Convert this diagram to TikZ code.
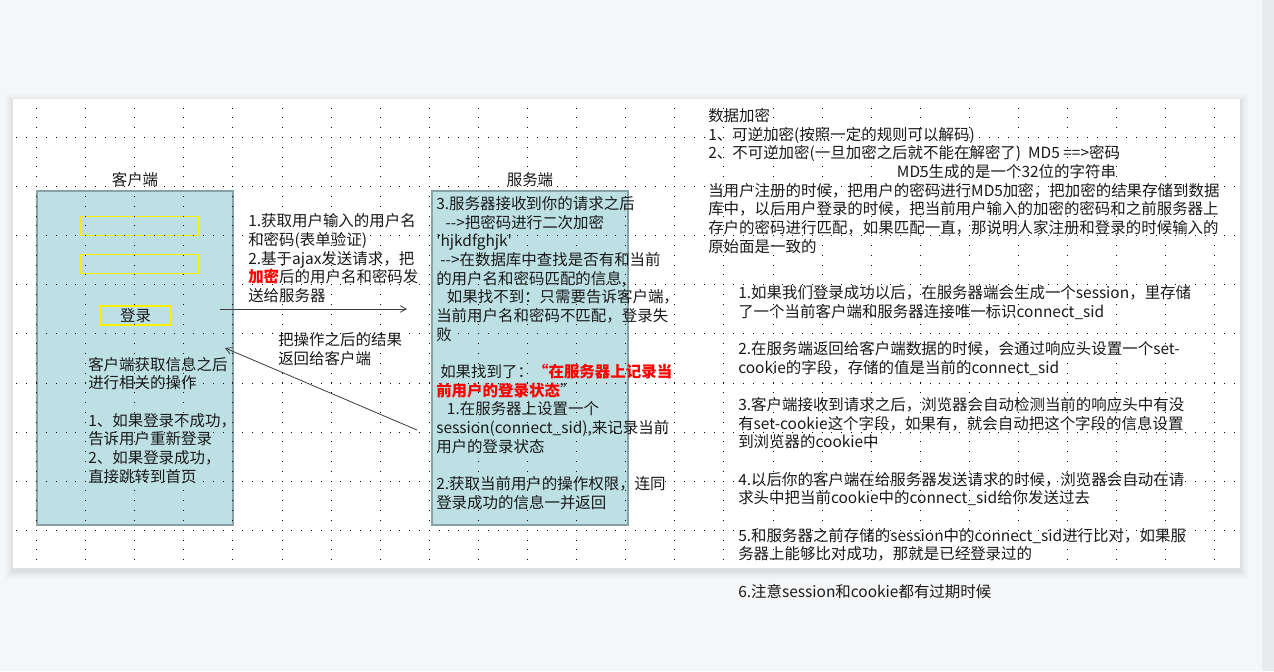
\documentclass[tikz,border=0pt]{standalone}
\usepackage{fontspec}
\setmainfont{Noto Sans CJK SC}[Ligatures=TeXOff]
\usetikzlibrary{arrows.meta,positioning}
\definecolor{pgPage}{HTML}{F5F6F8}
\definecolor{pgBar}{HTML}{E9EAEE}
\definecolor{pgBoxFill}{HTML}{BCE0E3}
\definecolor{pgBoxLine}{HTML}{86A3A6}
\definecolor{pgInput}{HTML}{FFF000}
\definecolor{pgRed}{HTML}{FF0000}
\definecolor{pgInk}{HTML}{1A1A1A}
\newcommand\hotred[1]{\textcolor{pgRed}{\bfseries #1}}
\tikzset{
  panel/.style  ={draw=pgBoxLine,fill=pgBoxFill,line width=0.9pt,
                  minimum width=147pt,minimum height=250.5pt},
  field/.style  ={draw=pgInput,line width=0.9pt,minimum height=14.25pt,inner sep=0pt},
  griddot/.style={fill=black},
  % multi-line texts hang from the baseline of their last line
  txt/.style    ={font=\fontsize{11.6}{14}\selectfont,text=pgInk,inner sep=0pt,
                  anchor=base west,align=left},
  title/.style  ={txt,anchor=base},
  flow/.style   ={-{Straight Barb[length=4.5pt,width=5pt]},pgInk!85,line width=0.6pt},
}

\begin{document}
\begin{tikzpicture}[x=0.75pt,y=-0.75pt]
\useasboundingbox[fill=pgPage] (0,0) rectangle (1274,671);
\fill[pgBar] (1262,0) rectangle (1274,671);
% canvas with a soft shadow
\foreach \s/\o in {8/0.012,6/0.018,4/0.025,2/0.03}
  \fill[black,opacity=\o] (13-\s,99-\s+3) rectangle (1240+\s,568+\s+3);
\fill[white] (13,99) rectangle (1240,568);

% the two panels
\node[panel] (client) at (135,358) {};
\node[panel] (server) at (530,358) {};
\node[field,minimum width=88.5pt] (inputA) at (140,226) {};
\node[field,minimum width=88.5pt] (inputB) at (140,264) {};
\node[field,minimum width=53.25pt] (loginbtn) at (135.5,315.5) {};
\node[title] (loginT) at (135.5,321.5) {登录};

% dotted grid
\foreach \gx in {0,...,24}
  \foreach \gy in {0,...,46}
    \fill[griddot] (36+49.1*\gx,107.5+9.82*\gy) rectangle ++(1,1);
\foreach \gy in {0,...,8}
  \foreach \gx in {0,...,124}
    \fill[griddot] (16.4+9.82*\gx,137+49.1*\gy) rectangle ++(1,1);

\node[title] (clientT) at (135,185) {客户端};
\node[title] (serverT) at (530,185) {服务端};

\node[txt] (clientNote) at (88,482)
  {客户端获取信息之后\\进行相关的操作\\[14pt]
   1、如果登录不成功，\\告诉用户重新登录\\2、如果登录成功，\\直接跳转到首页};

\node[txt] (serverNote) at (436,508)
  {3.服务器接收到你的请求之后\\
   \hspace*{7pt}-->把密码进行二次加密\\
   'hjkdfghjk'\\
   \hspace*{3pt}-->在数据库中查找是否有和当前\\
   的用户名和密码匹配的信息,\\
   \hspace*{8pt}如果找不到：只需要告诉客户端，\\
   当前用户名和密码不匹配，登录失\\
   败\\[14pt]
   \hspace*{3pt}如果找到了：\hotred{“在服务器上记录当}\\
   \hotred{前用户的登录状态}”\\
   \hspace*{8pt}1.在服务器上设置一个\\
   session(connect\_sid),来记录当前\\
   用户的登录状态\\[14pt]
   2.获取当前用户的操作权限，连同\\
   登录成功的信息一并返回};

% request and response
\coordinate (reqFrom) at (220,309);
\coordinate (reqTo) at (407,309);
\coordinate (respFrom) at (417,430);
\coordinate (respTo) at (225,348);
\draw[flow] (reqFrom) -- (reqTo);
\draw[flow] (respFrom) -- (respTo);
\node[txt] (reqLbl) at (248,301.5)
  {1.获取用户输入的用户名\\和密码(表单验证)\\2.基于ajax发送请求，把\\
   \hotred{加密}后的用户名和密码发\\送给服务器};
\node[txt] (respLbl) at (278,364.5) {把操作之后的结果\\返回给客户端};

% notes on the right
\node[txt] (cryptNote) at (708,252)
  {数据加密\\
   1、可逆加密(按照一定的规则可以解码)\\
   2、不可逆加密(一旦加密之后就不能在解密了)\ \ MD5 ==>密码\\
   \hspace*{141.5pt}MD5生成的是一个32位的字符串\\
   当用户注册的时候，把用户的密码进行MD5加密，把加密的结果存储到数据\\
   库中，以后用户登录的时候，把当前用户输入的加密的密码和之前服务器上\\
   存户的密码进行匹配，如果匹配一直，那说明人家注册和登录的时候输入的\\
   原始面是一致的};

\node[txt] (sessionNote) at (738,597)
  {1.如果我们登录成功以后，在服务器端会生成一个session，里存储\\
   了一个当前客户端和服务器连接唯一标识connect\_sid\\[14pt]
   2.在服务端返回给客户端数据的时候，会通过响应头设置一个set-\\
   cookie的字段，存储的值是当前的connect\_sid\\[14pt]
   3.客户端接收到请求之后，浏览器会自动检测当前的响应头中有没\\
   有set-cookie这个字段，如果有，就会自动把这个字段的信息设置\\
   到浏览器的cookie中\\[14pt]
   4.以后你的客户端在给服务器发送请求的时候，浏览器会自动在请\\
   求头中把当前cookie中的connect\_sid给你发送过去\\[14pt]
   5.和服务器之前存储的session中的connect\_sid进行比对，如果服\\
   务器上能够比对成功，那就是已经登录过的\\[14pt]
   6.注意session和cookie都有过期时候};
\end{tikzpicture}
\end{document}
